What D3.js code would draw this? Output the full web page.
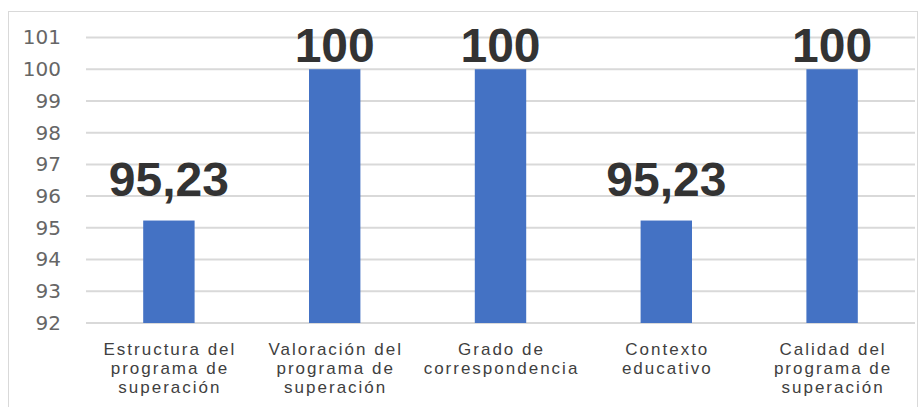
<!DOCTYPE html>
<html>
<head>
<meta charset="utf-8">
<script src="https://cdn.jsdelivr.net/npm/d3@7"></script>
<style>
  body { margin: 0; background: #fff; }
</style>
</head>
<body>
<div id="chart"></div>
<script>
// Data
const categories = [
    ["Estructura del", "programa de", "superación"],
    ["Valoración del", "programa de", "superación"],
    ["Grado de", "correspondencia"],
    ["Contexto", "educativo"],
    ["Calidad del", "programa de", "superación"]
];
const values = [95.23, 100, 100, 95.23, 100];
const valueLabels = ["95,23", "100", "100", "95,23", "100"];
const yTicks = [92, 93, 94, 95, 96, 97, 98, 99, 100, 101];

const width = 922;
const height = 407;

const svg = d3.select("#chart").append("svg")
    .attr("width", width)
    .attr("height", height);

// chart border
svg.append("rect")
    .attr("x", 8.5)
    .attr("y", 11.5)
    .attr("width", 909)
    .attr("height", 410)
    .attr("fill", "none")
    .attr("stroke", "#d9d9d9")
    .attr("stroke-width", 1);

const plot = { left: 86, right: 915, top: 37.5, bottom: 323 };

const x = d3.scaleBand()
    .domain(d3.range(values.length))
    .range([plot.left, plot.right])
    .paddingInner(0.69)
    .paddingOuter(0.345);

const y = d3.scaleLinear()
    .domain([92, 101])
    .range([plot.bottom, plot.top]);

// gridlines
svg.append("g")
    .selectAll("line")
    .data(yTicks)
    .enter().append("line")
    .attr("x1", plot.left)
    .attr("x2", plot.right)
    .attr("y1", d => y(d))
    .attr("y2", d => y(d))
    .attr("stroke", "#d9d9d9")
    .attr("stroke-width", 2);

// y axis labels
const yAxis = d3.axisLeft(y).tickValues(yTicks).tickSize(0).tickPadding(0);
svg.append("g")
    .attr("transform", "translate(61,0)")
    .call(yAxis)
    .call(g => g.select(".domain").remove())
    .selectAll("text")
    .attr("font-family", "DejaVu Sans")
    .attr("font-size", 20)
    .attr("fill", "#666");

// bars
svg.append("g")
    .selectAll("rect")
    .data(values)
    .enter().append("rect")
    .attr("x", (d, i) => x(i))
    .attr("y", d => y(d))
    .attr("width", x.bandwidth())
    .attr("height", d => y(92) - y(d))
    .attr("fill", "#4472C4");

// value labels (pushed down when they would leave the chart)
svg.append("g")
    .selectAll("text")
    .data(values)
    .enter().append("text")
    .attr("x", (d, i) => x(i) + x.bandwidth() / 2)
    .attr("y", d => Math.max(y(d) - 25, 62))
    .attr("text-anchor", "middle")
    .attr("font-family", "Liberation Sans, Arial, sans-serif")
    .attr("font-weight", "bold")
    .attr("font-size", 48)
    .attr("fill", "#333")
    .text((d, i) => valueLabels[i]);

// category labels
const cat = svg.append("g")
    .selectAll("text")
    .data(categories)
    .enter().append("text")
    .attr("x", (d, i) => x(i) + x.bandwidth() / 2 + 1)
    .attr("y", 355)
    .attr("text-anchor", "middle")
    .attr("font-family", "Liberation Sans, Arial, sans-serif")
    .attr("font-size", 17)
    .attr("letter-spacing", 2)
    .attr("fill", "#404040");

cat.each(function(lines) {
    const t = d3.select(this);
    lines.forEach((line, j) => {
        t.append("tspan")
            .attr("x", t.attr("x"))
            .attr("dy", j === 0 ? 0 : 19)
            .text(line);
    });
});
</script>
</body>
</html>
